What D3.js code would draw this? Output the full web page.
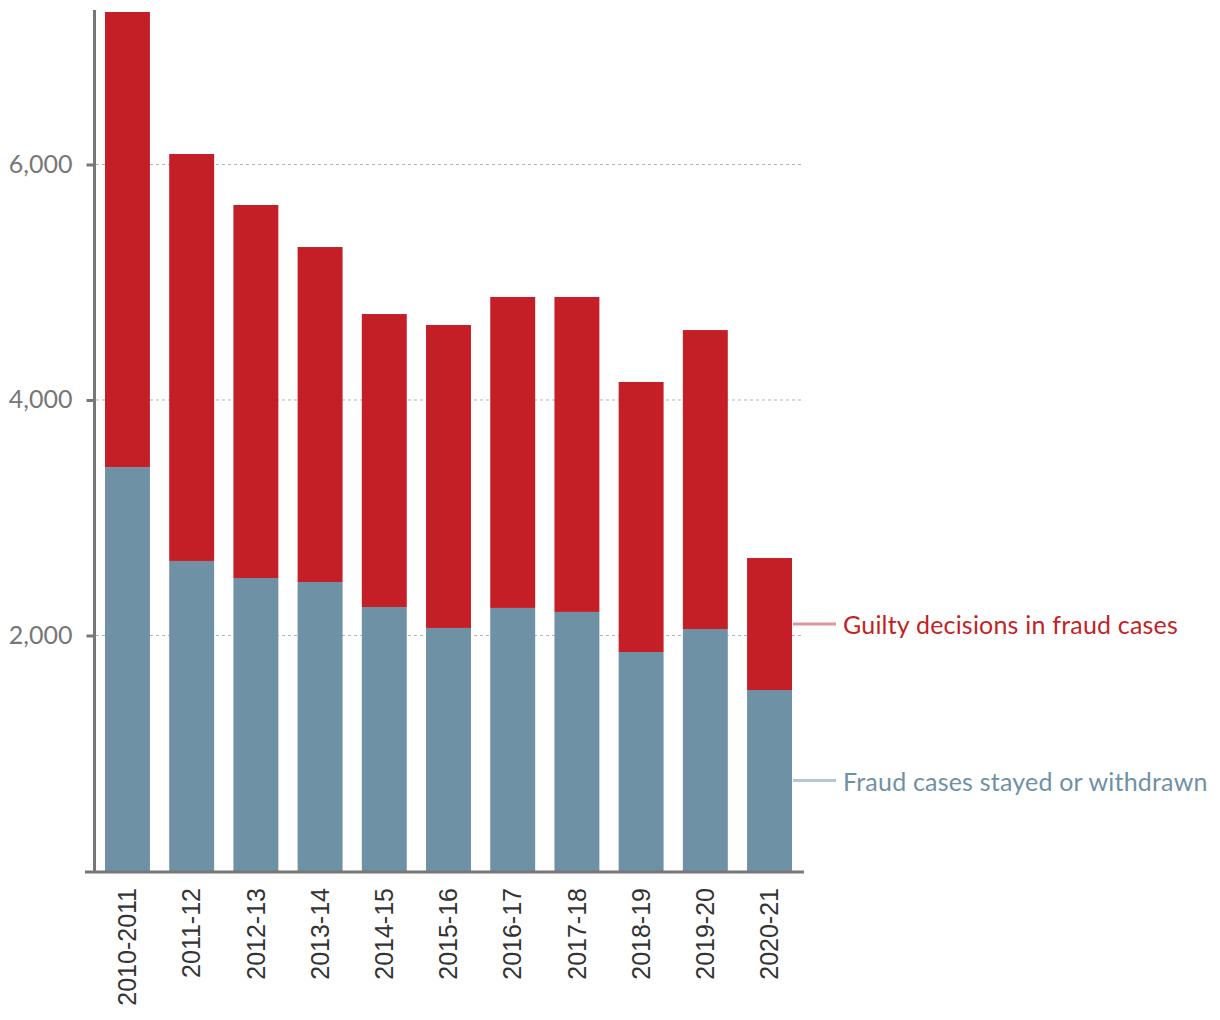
<!DOCTYPE html>
<html><head><meta charset="utf-8">
<script src="https://cdn.jsdelivr.net/npm/d3@7"></script>
<style>body{margin:0;background:#fff}</style>
</head><body>
<svg id="c" width="1220" height="1020"></svg>
<script>
const categories = ["2010-2011","2011-12","2012-13","2013-14","2014-15","2015-16","2016-17","2017-18","2018-19","2019-20","2020-21"];
const stayed = [3430, 2633, 2488, 2454, 2242, 2064, 2234, 2200, 1860, 2055, 1537];
const guilty = [3865, 3456, 3168, 2845, 2488, 2573, 2641, 2675, 2293, 2539, 1121];
const yTicks = [2000, 4000, 6000];
const seriesNames = ["Fraud cases stayed or withdrawn", "Guilty decisions in fraud cases"];

const svg = d3.select("#c");
const x = d3.scaleBand().domain(categories).range([96, 801]).paddingInner(0.3).paddingOuter(0.14);
const y = d3.scaleLinear().domain([0, 7312]).range([871, 10]);

const fontTick = "Lato, 'Open Sans', sans-serif";
// grid
svg.append("g").selectAll("line").data(yTicks).join("line")
  .attr("x1", 96).attr("x2", 803).attr("y1", d => y(d)).attr("y2", d => y(d))
  .attr("stroke", "#aab5bd").attr("stroke-width", 1).attr("stroke-dasharray", "3,3");

const rows = categories.map((c, i) => ({cat: c, stayed: stayed[i], guilty: guilty[i]}));
const stack = d3.stack().keys(["stayed", "guilty"])(rows);
const colors = {stayed: "#6f91a6", guilty: "#c41f26"};
svg.append("g").selectAll("g").data(stack).join("g")
  .attr("fill", d => colors[d.key])
  .selectAll("rect").data(d => d).join("rect")
  .attr("x", d => x(d.data.cat)).attr("width", x.bandwidth())
  .attr("y", d => y(d[1])).attr("height", d => y(d[0]) - y(d[1]));

// y axis
const ya = svg.append("g").attr("transform", "translate(94.5,0)")
  .call(d3.axisLeft(y).tickValues(yTicks).tickSize(8).tickPadding(14).tickFormat(d3.format(",")));
ya.select(".domain").attr("stroke", "#777").attr("stroke-width", 3).attr("d", "M0,10V872");
ya.selectAll(".tick line").attr("stroke", "#777").attr("stroke-width", 3);
ya.selectAll(".tick text").attr("fill", "#777").attr("font-size", 25).attr("font-family", fontTick);

// x axis
const xa = svg.append("g").attr("transform", "translate(0,872)")
  .call(d3.axisBottom(x).tickSize(0).tickPadding(0));
xa.select(".domain").attr("stroke", "#777").attr("stroke-width", 3).attr("d", "M85,0H804");
xa.selectAll(".tick text").attr("fill", "#333").attr("font-size", 25)
  .attr("font-family", "'Liberation Sans', Arial, sans-serif")
  .attr("transform", "rotate(-90)").attr("text-anchor", "end")
  .attr("x", -16).attr("y", 0).attr("dy", "0.35em");

// legend labels at middle of last bar's segments
const last = rows.length - 1;
const legend = [
  {name: seriesNames[1], mid: stayed[last] + guilty[last] / 2, line: "#e0959a", text: "#c41f26"},
  {name: seriesNames[0], mid: stayed[last] / 2, line: "#b3c6d2", text: "#6f91a6"}
];
const lg = svg.append("g").selectAll("g").data(legend).join("g")
  .attr("transform", d => `translate(0,${y(d.mid)})`);
lg.append("line").attr("x1", 793).attr("x2", 836).attr("stroke", d => d.line).attr("stroke-width", 3);
lg.append("text").attr("x", 843).attr("dy", "0.4em").attr("fill", d => d.text)
  .attr("font-size", 25).attr("font-family", fontTick).attr("letter-spacing", 0.2).text(d => d.name);
</script>
</body></html>
